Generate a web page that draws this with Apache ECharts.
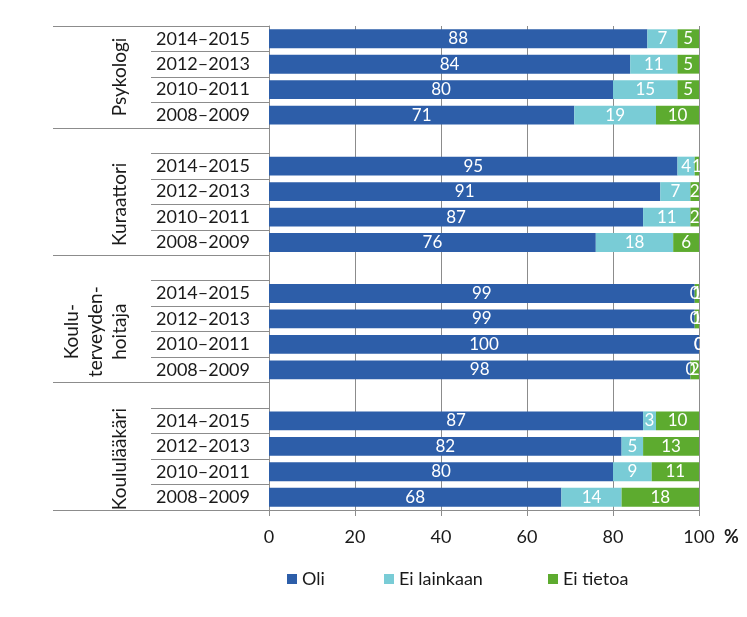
<!DOCTYPE html>
<html>
<head>
<meta charset="utf-8">
<script src="https://cdn.jsdelivr.net/npm/echarts@6/dist/echarts.min.js"></script>
<style>html,body{margin:0;padding:0;background:#fff;}#c{width:747px;height:617px;}</style>
</head>
<body>
<div id="c"></div>
<script>
// ---- data ----
const groups = ['Psykologi', 'Kuraattori', 'Koulu-\nterveyden-\nhoitaja', 'Koululääkäri'];
const years = ['2014–2015', '2012–2013', '2010–2011', '2008–2009'];
const seriesNames = ['Oli', 'Ei lainkaan', 'Ei tietoa'];
const oli        = [[88, 84, 80, 71], [95, 91, 87, 76], [99, 99, 100, 98], [87, 82, 80, 68]];
const eiLainkaan = [[7, 11, 15, 19], [4, 7, 11, 18], [0, 0, 0, 0], [3, 5, 9, 14]];
const eiTietoa   = [[5, 5, 5, 10], [1, 2, 2, 6], [1, 1, 0, 2], [10, 13, 11, 18]];
const xTicks = [0, 20, 40, 60, 80, 100];
const unitLabel = '%';

// ---- build rows (a blank spacer row before every group but the first) ----
const rowLabels = [];
const groupStart = [];
const groupCenter = [];
const seriesData = [[], [], []];
const valueSets = [oli, eiLainkaan, eiTietoa];
groups.forEach((g, gi) => {
  if (gi > 0) {
    rowLabels.push('');
    seriesData.forEach(s => s.push('-'));
  }
  groupStart.push(gi > 0 ? rowLabels.length - 1 : 0);
  const first = rowLabels.length;
  years.forEach((y, yi) => {
    rowLabels.push(y);
    valueSets.forEach((vs, si) => seriesData[si].push(vs[gi][yi]));
  });
  groupCenter.push((first + rowLabels.length) / 2);
});
const nRows = rowLabels.length;
const groupBounds = groupStart.concat([nRows]);
const centerName = {};
groupCenter.forEach((c, i) => { centerName[c] = groups[i]; });

const colors = ['#2D5EA9', '#79CCD6', '#5DAB2F'];
const FONT = 'Lato, "Open Sans", sans-serif';
const gridColor = '#8C8C8C';
const txt = '#1a1a1a';

const chart = echarts.init(document.getElementById('c'), null, {renderer: 'canvas'});
chart.setOption({
  animation: false,
  color: colors,
  textStyle: {fontFamily: FONT},
  grid: {left: 269, right: 48, top: 26, bottom: 107, containLabel: false},
  legend: seriesNames.map((n, i) => ({
    data: [n],
    left: [282, 379, 543][i],
    top: 565,
    icon: 'rect',
    itemWidth: 10,
    itemHeight: 10,
    itemGap: 5,
    textStyle: {fontSize: 18, color: txt, fontFamily: FONT}
  })),
  xAxis: {
    type: 'value',
    min: xTicks[0],
    max: xTicks[xTicks.length - 1],
    interval: xTicks[1] - xTicks[0],
    axisLine: {show: true, onZero: false, lineStyle: {color: gridColor, width: 1}},
    axisTick: {show: true, length: 6, lineStyle: {color: gridColor}},
    splitLine: {show: true, lineStyle: {color: gridColor, width: 1}},
    axisLabel: {fontSize: 18, color: txt, margin: 18, fontFamily: FONT},
    name: unitLabel,
    nameLocation: 'end',
    nameGap: 25,
    nameTextStyle: {fontSize: 18, fontWeight: 'bold', color: txt, verticalAlign: 'top', padding: [18, 0, 0, 0], fontFamily: FONT}
  },
  yAxis: [
    {
      type: 'category',
      inverse: true,
      data: rowLabels,
      axisLine: {show: true, onZero: false, lineStyle: {color: gridColor}},
      axisTick: {show: true, interval: 0, length: 118, lineStyle: {color: gridColor}},
      axisLabel: {interval: 0, fontSize: 18, color: txt, margin: 19, fontFamily: FONT}
    },
    {
      type: 'value',
      inverse: true,
      min: 0,
      max: nRows,
      position: 'left',
      splitLine: {show: false},
      axisLine: {show: false, onZero: false},
      axisTick: {show: true, customValues: groupBounds, length: 216, lineStyle: {color: gridColor}},
      axisLabel: {
        show: true,
        customValues: groupCenter,
        rotate: 90,
        margin: 137,
        fontSize: 19,
        lineHeight: 24,
        color: txt,
        fontFamily: FONT,
        formatter: v => centerName[v] || ''
      }
    }
  ],
  series: seriesNames.map((n, si) => ({
    name: n,
    type: 'bar',
    stack: 'total',
    yAxisIndex: 0,
    barCategoryGap: '26%',
    data: seriesData[si],
    label: {show: true, position: 'inside', color: '#fff', fontSize: 17, fontFamily: FONT},
    emphasis: {disabled: true}
  }))
});
</script>
</body>
</html>
